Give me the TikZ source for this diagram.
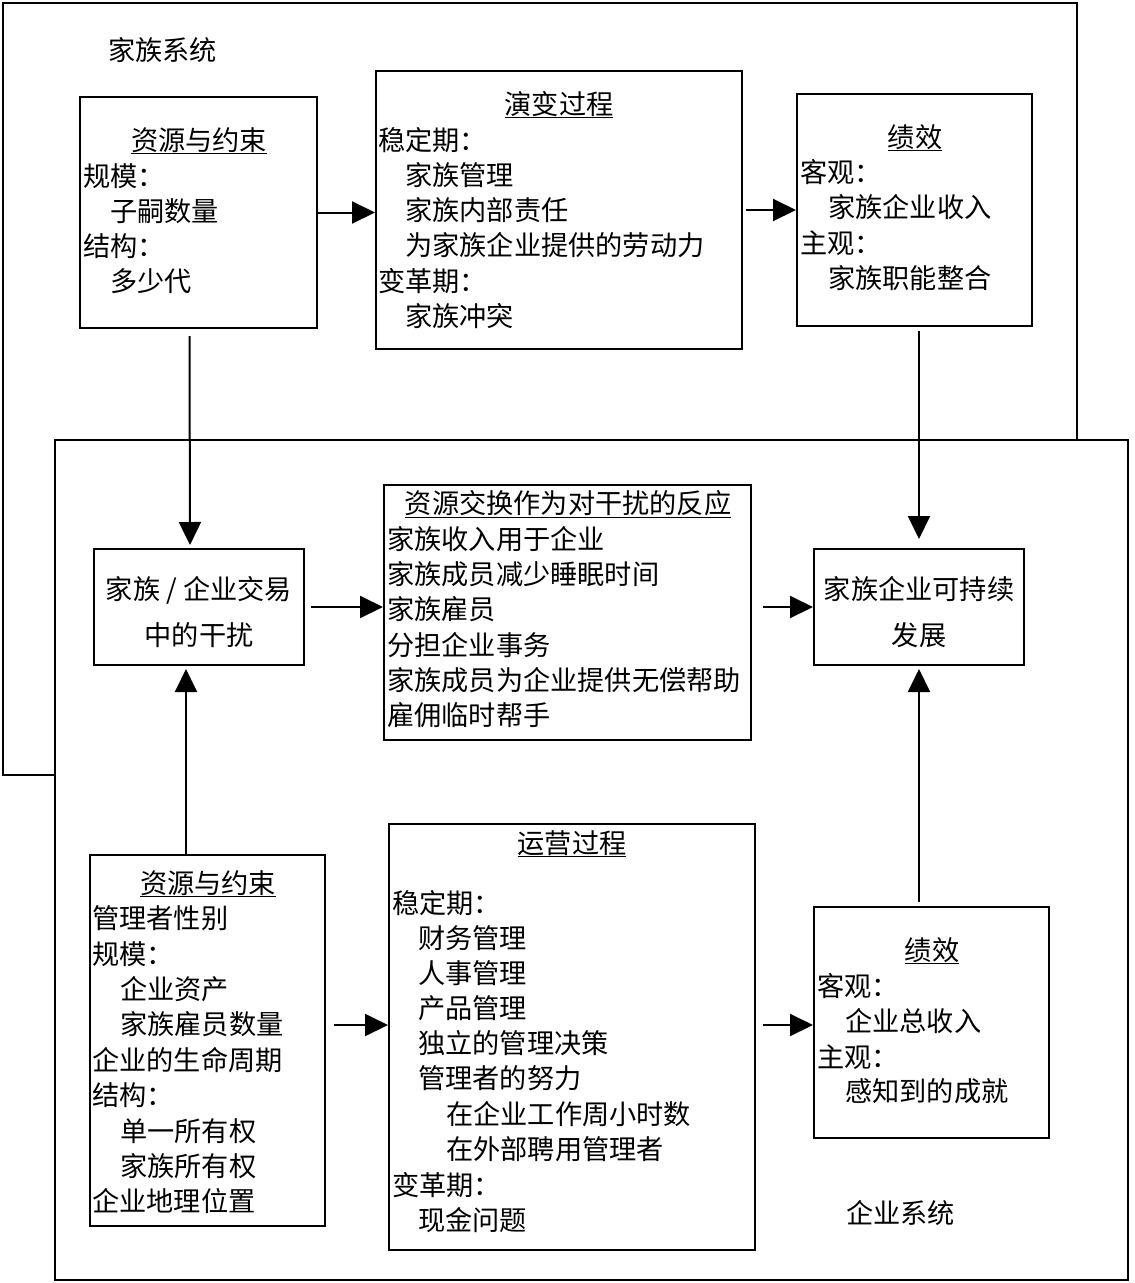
\documentclass[tikz,border=0pt]{standalone}
\usepackage{fontspec}
\newfontfamily\cjk{Noto Sans CJK SC}
\usetikzlibrary{arrows.meta}
\begin{document}
\begin{tikzpicture}[x=1pt,y=-1pt,
  boxnode/.style={draw, line width=2pt, inner sep=0pt},
  arr/.style={line width=2pt, -{Triangle[length=23pt,width=22pt]}},
  txt/.style={anchor=base west, inner sep=0pt, font=\cjk\fontsize{27.2}{30}\selectfont},
  ttl/.style={anchor=base, inner sep=0pt, font=\cjk\fontsize{27.2}{30}\selectfont},
  frame/.style={line width=2pt}]
\useasboundingbox (0,0) rectangle (1135,1283);
% outer systems
\coordinate (fa) at (55,775);
\coordinate (fb) at (3,775);
\coordinate (fc) at (3,3);
\coordinate (fd) at (1077,3);
\coordinate (fe) at (1077,440);
\draw[frame] (fa) -- (fb) -- (fc) -- (fd) -- (fe);
\coordinate (ea) at (55,440);
\coordinate (eb) at (1128,1280);
\draw[frame] (ea) rectangle (eb);
\node[txt] (lfam) at (108,60) {家族系统};
\node[txt] (lent) at (846,1223) {企业系统};

% boxes
\node[boxnode, minimum width=237pt, minimum height=231pt] (b1) at (198.5,212.5) {};
\node[boxnode, minimum width=366pt, minimum height=278pt] (b2) at (559,210) {};
\node[boxnode, minimum width=235pt, minimum height=232pt] (b3) at (914.5,210) {};
\node[boxnode, minimum width=210pt, minimum height=116pt] (b4) at (199,607) {};
\node[boxnode, minimum width=367pt, minimum height=255pt] (b5) at (567.5,612.5) {};
\node[boxnode, minimum width=210pt, minimum height=116pt] (b6) at (919,607) {};
\node[boxnode, minimum width=235pt, minimum height=371pt] (b7) at (207.5,1040.5) {};
\node[boxnode, minimum width=366pt, minimum height=426pt] (b8) at (572,1037) {};
\node[boxnode, minimum width=235pt, minimum height=231pt] (b9) at (931.5,1022.5) {};

% box 1
\node[ttl] (t1) at (199,150) {\underline{资源与约束}};
\node[txt] (t1a) at (83,186) {规模：};
\node[txt] (t1b) at (110,221) {子嗣数量};
\node[txt] (t1c) at (83,256) {结构：};
\node[txt] (t1d) at (110,291) {多少代};
% box 2
\node[ttl] (t2) at (559,114) {\underline{演变过程}};
\node[txt] (t2a) at (378,150) {稳定期：};
\node[txt] (t2b) at (405,185) {家族管理};
\node[txt] (t2c) at (405,220) {家族内部责任};
\node[txt] (t2d) at (405,255) {为家族企业提供的劳动力};
\node[txt] (t2e) at (378,291) {变革期：};
\node[txt] (t2f) at (405,326) {家族冲突};
% box 3
\node[ttl] (t3) at (915,147) {\underline{绩效}};
\node[txt] (t3a) at (800,182) {客观：};
\node[txt] (t3b) at (828,217) {家族企业收入};
\node[txt] (t3c) at (800,253) {主观：};
\node[txt] (t3d) at (828,288) {家族职能整合};
% box 4
\node[ttl] (t4a) at (199,599) {家族~/~企业交易};
\node[ttl] (t4b) at (199,645) {中的干扰};
% box 5
\node[ttl] (t5) at (568,513) {\underline{资源交换作为对干扰的反应}};
\node[txt] (t5a) at (387,549) {家族收入用于企业};
\node[txt] (t5b) at (387,584) {家族成员减少睡眠时间};
\node[txt] (t5c) at (387,619) {家族雇员};
\node[txt] (t5d) at (387,655) {分担企业事务};
\node[txt] (t5e) at (387,690) {家族成员为企业提供无偿帮助};
\node[txt] (t5f) at (387,725) {雇佣临时帮手};
% box 6
\node[ttl] (t6a) at (919,599) {家族企业可持续};
\node[ttl] (t6b) at (919,645) {发展};
% box 7
\node[ttl] (t7) at (208,893) {\underline{资源与约束}};
\node[txt] (t7a) at (92,928) {管理者性别};
\node[txt] (t7b) at (92,964) {规模：};
\node[txt] (t7c) at (120,999) {企业资产};
\node[txt] (t7d) at (120,1034) {家族雇员数量};
\node[txt] (t7e) at (92,1070) {企业的生命周期};
\node[txt] (t7f) at (92,1105) {结构：};
\node[txt] (t7g) at (120,1141) {单一所有权};
\node[txt] (t7h) at (120,1176) {家族所有权};
\node[txt] (t7i) at (92,1211) {企业地理位置};
% box 8
\node[ttl] (t8) at (572,853) {\underline{运营过程}};
\node[txt] (t8a) at (392,913) {稳定期：};
\node[txt] (t8b) at (418,948) {财务管理};
\node[txt] (t8c) at (418,983) {人事管理};
\node[txt] (t8d) at (418,1018) {产品管理};
\node[txt] (t8e) at (418,1053) {独立的管理决策};
\node[txt] (t8f) at (418,1088) {管理者的努力};
\node[txt] (t8g) at (446,1124) {在企业工作周小时数};
\node[txt] (t8h) at (446,1159) {在外部聘用管理者};
\node[txt] (t8i) at (392,1195) {变革期：};
\node[txt] (t8j) at (418,1230) {现金问题};
% box 9
\node[ttl] (t9) at (932,960) {\underline{绩效}};
\node[txt] (t9a) at (817,996) {客观：};
\node[txt] (t9b) at (845,1031) {企业总收入};
\node[txt] (t9c) at (817,1067) {主观：};
\node[txt] (t9d) at (845,1101) {感知到的成就};

% connectors
\draw[arr] (b1.east) -- (b2.west |- b1.east);
\draw[arr] ([xshift=3pt]b2.east) -- (b3.west);
\draw[arr] ([xshift=-9pt,yshift=-7pt]b1.south) -- ([xshift=-9pt,yshift=3pt]b4.north);
\draw[arr] ([xshift=4.5pt,yshift=-4pt]b3.south) -- ([yshift=9pt]b6.north);
\draw[arr] ([xshift=6pt]b4.east) -- (b5.west |- b4.east);
\draw[arr] ([xshift=11pt]b5.east |- b6.west) -- (b6.west);
\draw[arr] ([xshift=-21.5pt]b7.north) -- ([xshift=-13pt,yshift=-3pt]b4.south);
\draw[arr] ([xshift=8pt,yshift=15.5pt]b7.east) -- ([yshift=12pt]b8.west);
\draw[arr] ([xshift=7pt,yshift=12pt]b8.east) -- ([yshift=-2.5pt]b9.west);
\draw[arr] ([xshift=-12.5pt,yshift=4pt]b9.north) -- ([yshift=-3pt]b6.south);
\end{tikzpicture}
\end{document}
